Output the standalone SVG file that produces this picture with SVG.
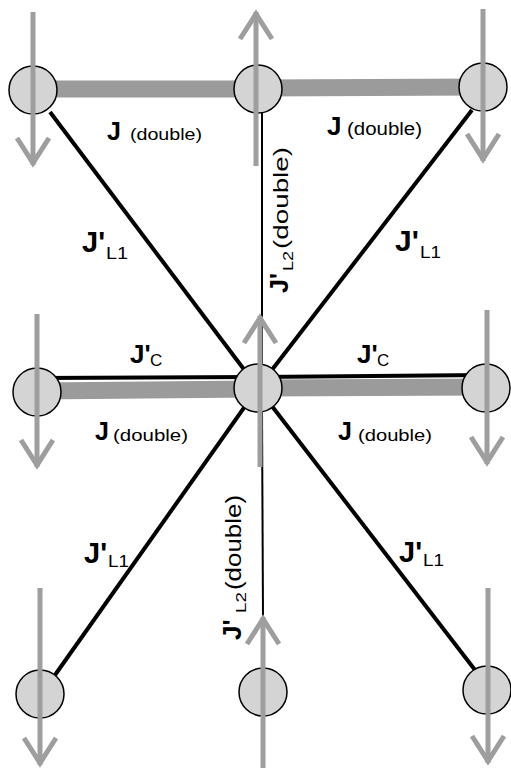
<svg xmlns="http://www.w3.org/2000/svg" width="511" height="768" viewBox="0 0 511 768">
<defs>
<marker id="ah" markerUnits="userSpaceOnUse" viewBox="-34 -22 40 44" refX="0" refY="0" markerWidth="40" markerHeight="44" orient="auto" overflow="visible">
<path d="M-27,-16 L-2,0 L-27,16" fill="none" stroke="#9e9e9e" stroke-width="5"/>
</marker>
<style>
.spin{stroke:#9e9e9e;stroke-width:5;fill:none;marker-end:url(#ah)}
.bar{stroke:#9b9b9b;stroke-width:17}
.bond{stroke:#000;stroke-width:4}
.thin{stroke:#000;stroke-width:2}
.site{fill:#d4d4d4;stroke:#000;stroke-width:1.5}
text{font-family:"Liberation Sans",Arial,sans-serif;fill:#000}
.b{font-weight:bold}
</style>
</defs>
<rect width="511" height="768" fill="#fff"/>
<g id="connectors">
<line class="bar" x1="33" y1="89" x2="258" y2="89"/>
<line class="bar" x1="258" y1="88" x2="483" y2="87"/>
<line class="bar" x1="37" y1="391" x2="258" y2="389"/>
<line class="bar" x1="258" y1="388" x2="486" y2="387"/>
<line class="bond" stroke-width="6" x1="37" y1="378" x2="258" y2="377"/>
<line class="bond" stroke-width="5" x1="258" y1="377" x2="486" y2="375"/>
<line class="bond" x1="258" y1="388" x2="50" y2="112"/>
<line class="bond" x1="258" y1="388" x2="472" y2="110"/>
<line class="bond" x1="258" y1="388" x2="55" y2="675"/>
<line class="bond" x1="258" y1="388" x2="475" y2="670"/>
<line class="thin" x1="262" y1="110" x2="262" y2="370"/>
<line class="thin" x1="262" y1="410" x2="263" y2="618"/>
</g>
<g id="site-tl"><circle class="site" cx="33" cy="90" r="24"/><path class="spin" d="M33,12 V165"/></g>
<g id="site-tm"><circle class="site" cx="258" cy="89" r="24"/><path class="spin" d="M256,166 V12"/></g>
<g id="site-tr"><circle class="site" cx="483" cy="87" r="24"/><path class="spin" d="M483,9 V161"/></g>
<g id="site-ml"><circle class="site" cx="37" cy="392" r="24"/><path class="spin" d="M37,314 V467"/></g>
<g id="site-c"><circle class="site" cx="258" cy="388" r="24"/><path class="spin" d="M260,467 V316"/></g>
<g id="site-mr"><circle class="site" cx="486" cy="388" r="24"/><path class="spin" d="M487,310 V464"/></g>
<g id="site-bl"><circle class="site" cx="40" cy="694" r="24"/><path class="spin" d="M40,588 V765"/></g>
<g id="site-bm"><circle class="site" cx="263" cy="692" r="24"/><path class="spin" d="M263,768 V617"/></g>
<g id="site-br"><circle class="site" cx="487" cy="690" r="24"/><path class="spin" d="M488,588 V763"/></g>
<g id="labels">
<text class="b" x="107" y="140" font-size="25">J</text><text x="130" y="140" font-size="16" textLength="72" lengthAdjust="spacingAndGlyphs">(double)</text>
<text class="b" x="327" y="135" font-size="26">J</text><text x="347" y="135" font-size="18" textLength="75" lengthAdjust="spacingAndGlyphs">(double)</text>
<text class="b" x="95" y="440" font-size="25">J</text><text x="113" y="441" font-size="17" textLength="75" lengthAdjust="spacingAndGlyphs">(double)</text>
<text class="b" x="338" y="440" font-size="25">J</text><text x="358" y="441" font-size="17" textLength="74" lengthAdjust="spacingAndGlyphs">(double)</text>
<text class="b" x="130" y="363" font-size="26">J'</text><text x="150" y="366" font-size="17">C</text>
<text class="b" x="357" y="363" font-size="26">J'</text><text x="377" y="366" font-size="17">C</text>
<text class="b" x="82" y="252" font-size="29">J'</text><text x="106" y="259" font-size="17" textLength="22" lengthAdjust="spacingAndGlyphs">L1</text>
<text class="b" x="395" y="251" font-size="30">J'</text><text x="420" y="258" font-size="17" textLength="21" lengthAdjust="spacingAndGlyphs">L1</text>
<text class="b" x="84" y="563" font-size="29">J'</text><text x="108" y="567" font-size="17" textLength="21" lengthAdjust="spacingAndGlyphs">L1</text>
<text class="b" x="399" y="562" font-size="29">J'</text><text x="423" y="566" font-size="17" textLength="21" lengthAdjust="spacingAndGlyphs">L1</text>
<g transform="translate(288,293) rotate(-90)"><text class="b" x="0" y="0" font-size="25">J'</text><text x="22" y="5" font-size="15" textLength="20" lengthAdjust="spacingAndGlyphs">L2</text><text x="44" y="0" font-size="21" textLength="102" lengthAdjust="spacingAndGlyphs">(double)</text></g>
<g transform="translate(241,640) rotate(-90)"><text class="b" x="0" y="0" font-size="26">J'</text><text x="27" y="5" font-size="15" textLength="21" lengthAdjust="spacingAndGlyphs">L2</text><text x="50" y="0" font-size="22" textLength="95" lengthAdjust="spacingAndGlyphs">(double)</text></g>
</g>
</svg>
